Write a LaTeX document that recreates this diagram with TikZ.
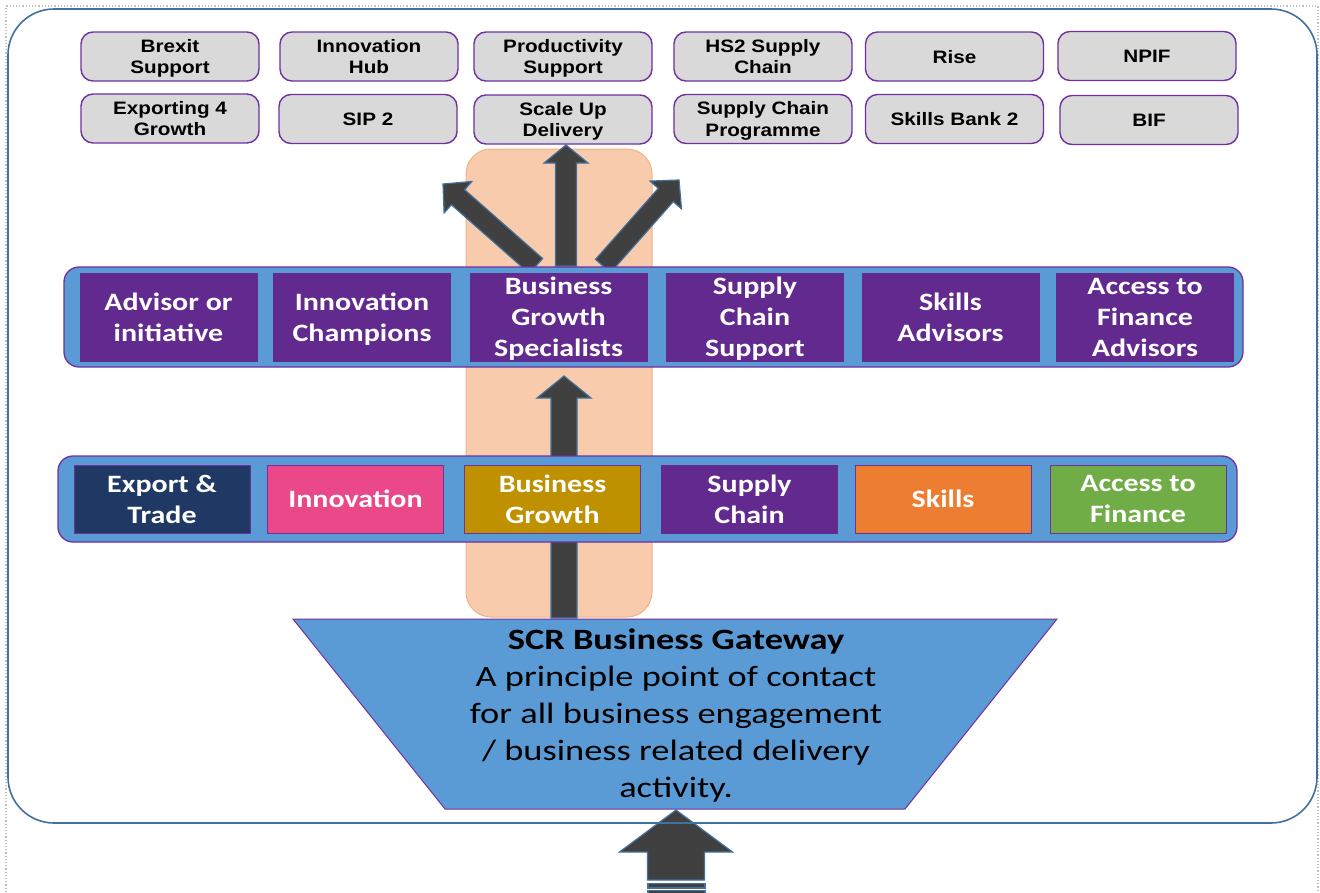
\documentclass[tikz,border=0pt]{standalone}
\usepackage{fontspec}
\usetikzlibrary{calc}
\newfontfamily\progfont[FakeStretch=1.15]{Liberation Sans}
\newfontfamily\labelfont[FakeStretch=1.2]{Carlito}
\newfontfamily\gatefont[FakeStretch=1.235]{Carlito}

\definecolor{framecol}{RGB}{65,113,156}
\definecolor{edgepurple}{RGB}{112,48,160}
\definecolor{fillpurple}{RGB}{98,42,142}
\definecolor{boxgray}{RGB}{217,217,217}
\definecolor{bandblue}{RGB}{91,155,213}
\definecolor{peach}{RGB}{248,203,173}
\definecolor{peachedge}{RGB}{244,177,131}
\definecolor{navy}{RGB}{32,56,100}
\definecolor{pink}{RGB}{234,72,137}
\definecolor{gold}{RGB}{191,144,0}
\definecolor{orangefill}{RGB}{237,125,49}
\definecolor{greenfill}{RGB}{112,173,71}
\definecolor{arrowgray}{RGB}{64,64,64}

% block arrow: from, to, shaft half width, head half width, head length
\newcommand\blockarrow[5]{%
  \coordinate (ba-h) at ($(#2)!#5!(#1)$);
  \draw[arrowbody] ($(#1)!#3!90:(#2)$) -- ($(ba-h)!#3!-90:(#1)$)
    -- ($(ba-h)!#4!-90:(#1)$) -- (#2) -- ($(ba-h)!#4!90:(#1)$)
    -- ($(ba-h)!#3!90:(#1)$) -- ($(#1)!#3!-90:(#2)$) -- cycle;}

\tikzset{
  arrowbody/.style={fill=arrowgray, draw=framecol, line width=1.2pt, line join=miter},
  progbox/.style={draw=edgepurple, line width=1.4pt, fill=boxgray, rounded corners=12pt,
    minimum width=178pt, minimum height=49pt, align=center, inner sep=0pt, text depth=0pt,
    font=\progfont\bfseries\fontsize{18}{21.5}\selectfont},
  band/.style={fill=bandblue, draw=edgepurple, line width=1.3pt, rounded corners=15pt},
  advbox/.style={fill=fillpurple, draw=fillpurple, line width=0.8pt, minimum width=177pt,
    minimum height=88pt, align=center, inner sep=0pt, text=white, text depth=0pt,
    font=\labelfont\bfseries\fontsize{25}{31}\selectfont},
  catbox/.style={draw=edgepurple, line width=1pt, minimum width=176pt,
    minimum height=68pt, align=center, inner sep=0pt, text=white, text depth=0pt,
    font=\labelfont\bfseries\fontsize{25}{31}\selectfont},
}

\begin{document}
\begin{tikzpicture}[x=1pt,y=-1pt]
\useasboundingbox (0,0) rectangle (1320,892);
\fill[white] (0,0) rectangle (1320,892);
\draw[black!25, dotted, line width=1.2pt] (6,892) -- (6,6) -- (1318,6) -- (1318,892);

% highlighted route behind the bands
\draw[fill=peach, draw=peachedge, line width=1pt, rounded corners=25pt] (466,149) rectangle (652,617);

% arrow end points
\coordinate (upb) at (566,266);  \coordinate (upt) at (566,145);
\coordinate (ulb) at (536,266);  \coordinate (ult) at (443,184);
\coordinate (urb) at (603,266);  \coordinate (urt) at (679,180);
\coordinate (midb) at (564,618); \coordinate (midt) at (564,376);
\coordinate (inb) at (676,880);  \coordinate (int) at (676,810);

\blockarrow{upb}{upt}{10.5pt}{22pt}{18pt}
\blockarrow{ulb}{ult}{10pt}{21pt}{20pt}
\blockarrow{urb}{urt}{10pt}{21pt}{20pt}
\blockarrow{midb}{midt}{13pt}{27pt}{22pt}

% advisors band
\draw[band] (64,267) rectangle (1243,367);
\node[advbox] (adv1) at (168.5,317) {Advisor or\\initiative};
\node[advbox] (adv2) at (362,317) {Innovation\\Champions};
\node[advbox] (adv3) at (558.5,317) {Business\\Growth\\Specialists};
\node[advbox] (adv4) at (755,317) {Supply\\Chain\\Support};
\node[advbox] (adv5) at (950.5,317) {Skills\\Advisors};
\node[advbox] (adv6) at (1145,317) {Access to\\Finance\\Advisors};

% themes band
\draw[band] (58,456) rectangle (1237,542);
\node[catbox, fill=navy] (cat1) at (162,499) {Export \&\\Trade};
\node[catbox, fill=pink] (cat2) at (355.5,499) {Innovation};
\node[catbox, fill=gold] (cat3) at (552.5,499) {Business\\Growth};
\node[catbox, fill=fillpurple, draw=fillpurple] (cat4) at (749.5,499) {Supply\\Chain};
\node[catbox, fill=orangefill] (cat5) at (943,499) {Skills};
\node[catbox, fill=greenfill] (cat6) at (1138,499) {Access to\\Finance};

% gateway funnel
\draw[fill=bandblue, draw=edgepurple, line width=1pt] (293,619) -- (1057,619) -- (905,809) -- (445,809) -- cycle;
\node[align=center, inner sep=0pt, text depth=0pt, font=\gatefont\fontsize{29.5}{37}\selectfont] (gw) at (676,713)
  {{\bfseries SCR Business Gateway}\\A principle point of contact\\for all business engagement\\/ business related delivery\\activity.};

% incoming arrow with striped tail
\blockarrow{inb}{int}{28.5pt}{56.5pt}{42pt}
\draw[arrowbody] (648,883.5) rectangle (705,888);
\draw[arrowbody] (648,890.5) rectangle (705,897);

% programmes
\node[progbox] (p1) at (170,56.5) {Brexit\\Support};
\node[progbox] (p2) at (369,56.5) {Innovation\\Hub};
\node[progbox] (p3) at (563,56.5) {Productivity\\Support};
\node[progbox] (p4) at (763,56.5) {HS2 Supply\\Chain};
\node[progbox] (p5) at (954.5,56.5) {Rise};
\node[progbox] (p6) at (1147,56) {NPIF};
\node[progbox] (q1) at (170,118.5) {Exporting 4\\Growth};
\node[progbox] (q2) at (368,119) {SIP 2};
\node[progbox] (q3) at (563,119.5) {Scale Up\\Delivery};
\node[progbox] (q4) at (763,119) {Supply Chain\\Programme};
\node[progbox] (q5) at (954.5,119) {Skills Bank 2};
\node[progbox] (q6) at (1149,120) {BIF};

% outer frame
\draw[framecol, line width=1.6pt, rounded corners=46pt] (8,9) rectangle (1317,823);
\end{tikzpicture}
\end{document}
